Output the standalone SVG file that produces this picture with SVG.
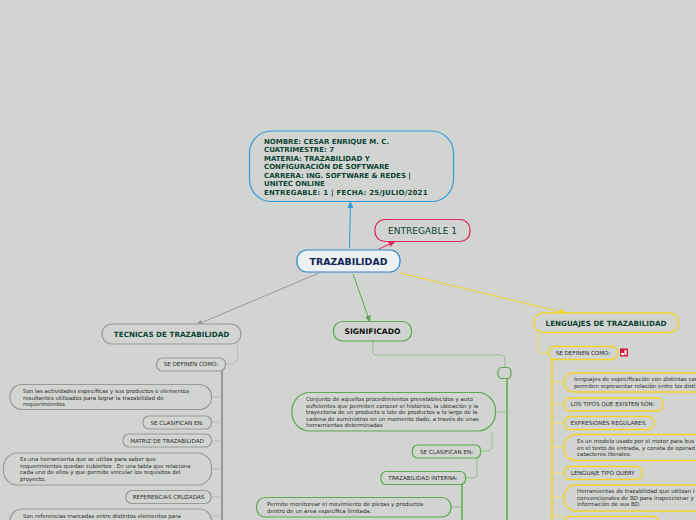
<svg xmlns="http://www.w3.org/2000/svg" width="696" height="520" viewBox="0 0 696 520">
<defs>
<marker id="ab" markerWidth="8" markerHeight="6" refX="6.500" refY="3" orient="auto" markerUnits="userSpaceOnUse"><path d="M0 0L7 3L0 6z" fill="context-stroke"/></marker>
</defs>
<style>
text{font-family:"DejaVu Sans",Verdana,sans-serif;fill:#2e2e2e}
.s{font-size:5.6px}
.p{font-size:5.5px}
.n{fill:#d1d4d0;stroke-width:1.2}
.g{stroke:#989a98}.gr{stroke:#5ca94f}.y{stroke:#f5d327;stroke-width:1.4}
.l{fill:none;stroke-width:1}
.t{stroke:#999;stroke-width:2}
.tg{stroke:#5ca94f;stroke-width:1.5}
.ty{stroke:#f5d327;stroke-width:1.6}
.h{font-weight:bold;fill:#0f4536}
</style>
<rect width="696" height="520" fill="#d1d4d0"/>
<g id="connectors" fill="none">
<path d="M349.500 248L350.500 201.500" stroke="#2d9cdb" marker-end="url(#ab)"/>
<path d="M379 249L395 241.500" stroke="#e0245e" marker-end="url(#ab)"/>
<path d="M319 273L196 325" stroke="#989a98" marker-end="url(#ab)"/>
<path d="M353 274L370 322" stroke="#5ca94f" marker-end="url(#ab)"/>
<path d="M400 273L566 313" stroke="#f5d327" marker-end="url(#ab)"/>
<path class="l" d="M237.500 344V357Q237.500 364 230 364H226" stroke="#b9bcb9"/>
<path class="t" d="M222 370V520"/>
<path class="l" stroke="#b9bcb9" d="M222 397H212M222 422H212M222 441H212M222 469H212M222 497H211M222 516H212"/>
<path class="l" stroke="#8fc088" d="M373 341V352Q373 355 377 355H500Q505 355 505 360V367"/>
<path class="tg" d="M507 379V520"/>
<path class="l" stroke="#8fc088" d="M507 412H496M492 432V445Q492 451 486 451H481M477 458V473Q477 478 472 478H466M462 507H451"/>
<path class="tg" d="M462 484V520"/>
<path class="l" stroke="#f7df6a" d="M538 333V348Q538 353 543 353H548"/>
<path class="ty" d="M552 359V520"/>
<path class="l" stroke="#f7df6a" d="M552 382H564M552 404H564M552 423H564M552 447H564M552 473H564M552 497H564M552 516H564"/>
</g>
<g id="n-top"><rect x="249.500" y="131" width="204" height="70.500" rx="22" fill="none" stroke="#2d9cdb" stroke-width="1.200"/><text class="h" font-size="7"><tspan x="264" y="143.500">NOMBRE: CESAR ENRIQUE M. C.</tspan><tspan x="264" y="152">CUATRIMESTRE: 7</tspan><tspan x="264" y="160.500">MATERIA: TRAZABILIDAD Y</tspan><tspan x="264" y="169">CONFIGURACIÓN DE SOFTWARE</tspan><tspan x="264" y="177.500">CARRERA: ING. SOFTWARE &amp; REDES |</tspan><tspan x="264" y="186">UNITEC ONLINE</tspan><tspan x="264" y="194.500" letter-spacing="0.220">ENTREGABLE: 1 | FECHA: 25/JULIO/2021</tspan></text></g>
<g id="n-entregable"><rect x="375" y="219.500" width="95" height="22" rx="10" fill="none" stroke="#e0245e" stroke-width="1.200"/><text x="422.500" y="234" text-anchor="middle" font-size="9.100" style="fill:#0f4536">ENTREGABLE 1</text></g>
<g id="n-root"><rect x="297" y="250" width="103" height="22" rx="10" fill="#eef1f3" stroke="#2d84c9" stroke-width="1.200"/><text x="348.500" y="264.500" text-anchor="middle" font-size="9.400" font-weight="bold" style="fill:#0d2355">TRAZABILIDAD</text></g>
<g id="n-tec"><rect class="n g" x="102" y="324" width="139" height="20" rx="10"/><text class="h" x="171.500" y="337" text-anchor="middle" font-size="7.200">TECNICAS DE TRAZABILIDAD</text></g>
<g id="n-t1"><rect class="n g" x="156.500" y="358" width="69" height="13" rx="6"/><text class="s" x="191" y="366" text-anchor="middle">SE DEFINEN COMO:</text></g>
<g id="n-t2"><rect class="n g" x="10" y="384.500" width="201.500" height="25" rx="12"/><text class="p"><tspan x="23" y="393">Son las actividades específicas y sus productos o elementos</tspan><tspan x="23" y="399.500">resultantes utilizados para lograr la trazabilidad de</tspan><tspan x="23" y="406">requerimientos</tspan></text></g>
<g id="n-t3"><rect class="n g" x="143" y="416" width="68.500" height="13" rx="6"/><text class="s" x="177" y="424.500" text-anchor="middle">SE CLASIFICAN EN:</text></g>
<g id="n-t4"><rect class="n g" x="123" y="434" width="88.500" height="13" rx="6"/><text class="s" x="167" y="443" text-anchor="middle">MATRIZ DE TRAZABILIDAD</text></g>
<g id="n-t5"><rect class="n g" x="3.500" y="453" width="208" height="32" rx="14"/><text class="p"><tspan x="20" y="461">Es una herramienta que se utiliza para saber que</tspan><tspan x="20" y="467.500">requerimientos quedan cubiertos . En una tabla que relaciona</tspan><tspan x="20" y="474">cada uno de ellos y que permite vincular los requisitos del</tspan><tspan x="20" y="481">proyecto.</tspan></text></g>
<g id="n-t6"><rect class="n g" x="126" y="490.500" width="85" height="13" rx="6"/><text class="s" x="168.500" y="499" text-anchor="middle">REFERENCIAS CRUZADAS</text></g>
<g id="n-t7"><rect class="n g" x="10" y="509" width="201.500" height="30" rx="12"/><text class="p"><tspan x="23" y="518">Son referencias marcadas entre distintos elementos para</tspan></text></g>
<g id="n-sig"><rect class="n gr" x="333.500" y="321.500" width="78" height="19.500" rx="9"/><text x="372.500" y="334" text-anchor="middle" font-size="7.600" font-weight="bold" style="fill:#111">SIGNIFICADO</text></g>
<g id="n-s0"><rect class="n gr" x="498" y="367.500" width="13" height="11" rx="4"/></g>
<g id="n-s1"><rect class="n gr" x="292" y="392.500" width="203.500" height="38.500" rx="18"/><text class="p"><tspan x="306" y="401">Conjunto de aquellos procedimientos preestablecidos y auto</tspan><tspan x="306" y="407.500">suficientes que permiten conocer el histórico, la ubicación y la</tspan><tspan x="306" y="414">trayectoria de un producto o lote de productos a lo largo de la</tspan><tspan x="306" y="420.500">cadena de suministros en un momento dado, a través de unas</tspan><tspan x="306" y="427">herramientas determinadas</tspan></text></g>
<g id="n-s2"><rect class="n gr" x="412.500" y="445" width="68" height="13" rx="5"/><text class="s" x="446.500" y="453.500" text-anchor="middle">SE CLASIFICAN EN:</text></g>
<g id="n-s3"><rect class="n gr" x="381" y="471.500" width="84.500" height="13" rx="5"/><text class="s" x="423" y="480" text-anchor="middle">TRAZABILIDAD INTERNA:</text></g>
<g id="n-s4"><rect class="n gr" x="256.500" y="497.500" width="194.500" height="19.500" rx="9"/><text class="p"><tspan x="267" y="506">Permite monitorear el movimiento de piezas y productos</tspan><tspan x="267" y="513">dentro de un área específica limitada.</tspan></text></g>
<g id="n-len"><rect class="n y" x="534" y="313" width="144.500" height="19.500" rx="9"/><text class="h" x="606" y="325.500" text-anchor="middle" font-size="7.200">LENGUAJES DE TRAZABILIDAD</text></g>
<g id="n-l1"><rect class="n y" x="548.500" y="346.500" width="69" height="13" rx="6"/><text class="s" x="583" y="355" text-anchor="middle">SE DEFINEN COMO:</text><rect x="620" y="348.500" width="8" height="8" fill="#d3163c"/><path d="M621 353h3v2h-3zM624.500 350h2v5h-2z" fill="#fff"/></g>
<g id="n-l2"><rect class="n y" x="564" y="373" width="150" height="19" rx="9"/><text class="p"><tspan x="574" y="381">lenguajes de especificación con distintas car</tspan><tspan x="574" y="388">permiten representar relación entre los disti</tspan></text></g>
<g id="n-l3"><rect class="n y" x="564" y="398" width="99" height="13" rx="6"/><text class="s" x="570.500" y="406">LOS TIPOS QUE EXISTEN SON:</text></g>
<g id="n-l4"><rect class="n y" x="564" y="416.500" width="90" height="13" rx="6"/><text class="s" x="570.500" y="425">EXPRESIONES REGULARES.</text></g>
<g id="n-l5"><rect class="n y" x="564" y="434.500" width="150" height="26" rx="12"/><text class="p"><tspan x="577" y="443">Es un modelo usado por el motor  para bus</tspan><tspan x="577" y="449.500">en el texto de entrada, y consta de operad</tspan><tspan x="577" y="456">catacteres literales.</tspan></text></g>
<g id="n-l6"><rect class="n y" x="564" y="466.500" width="78.500" height="13" rx="6"/><text class="s" x="571" y="475">LENGUAJE TIPO QUERY</text></g>
<g id="n-l7"><rect class="n y" x="564" y="485" width="150" height="26" rx="12"/><text class="p"><tspan x="577" y="493">Herramientas de trazabilidad que utilizan l</tspan><tspan x="577" y="500">convencionales de BD para inspeccionar y</tspan><tspan x="577" y="506">información de sus BD.</tspan></text></g>
<g id="n-l8"><rect class="n y" x="564" y="516.500" width="95" height="13" rx="6"/></g>
</svg>
